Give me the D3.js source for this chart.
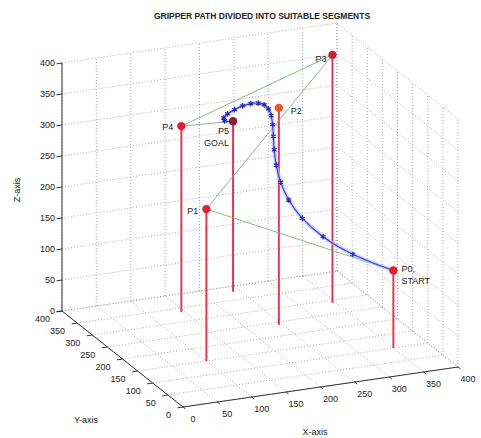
<!DOCTYPE html>
<html>
<head>
<meta charset="utf-8">
<script src="https://cdn.jsdelivr.net/npm/d3@7"></script>
<style>
  body { margin: 0; background: #fff; }
  text { font-family: "Liberation Sans", Arial, sans-serif; fill: #222; }
</style>
</head>
<body>
<div id="chart"></div>
<script>
// axis ticks (same for X, Y, Z)
const ticks = [0, 50, 100, 150, 200, 250, 300, 350, 400];

// control points of the gripper path
const ptNames = ["P0,\nSTART", "P1", "P2", "P3", "P4", "P5\nGOAL"];
const ptX = [350, 100, 245, 345, 145, 240];
const ptY = [100, 150, 240, 290, 335, 380];
const ptZ = [125, 245, 350, 400, 300, 275];

// green segment lines between control points (index pairs)
const segA = [0, 1, 3, 4];
const segB = [1, 3, 4, 5];

// sampled gripper path (blue stars)
const pathX = [350, 296.8, 260.2, 237.0, 224.5, 219.9, 220.8, 225.1, 230.9, 236.6, 241.1,
               243.4, 243.2, 240.3, 235.2, 228.6, 222.0, 217.2, 216.5, 222.9, 240];
const pathY = [100, 113.4, 128.3, 144.1, 160.5, 177.1, 193.7, 210.1, 226.0, 241.5, 256.4,
               270.7, 284.4, 297.6, 310.3, 322.5, 334.4, 346.0, 357.4, 368.8, 380];
const pathZ = [125, 154.6, 183.1, 210.2, 235.5, 258.7, 279.4, 297.3, 312.2, 323.8, 332.0,
               336.8, 338.1, 336.2, 331.3, 323.9, 314.4, 303.8, 292.9, 282.9, 275];

const width = 481, height = 438;

const svg = d3.select("#chart").append("svg")
  .attr("width", width)
  .attr("height", height);

// projection of the 3D box onto the page
const origin = [183, 407];
const ex = [275, -40], ey = [-121, -96], ez = [0, -248];
const nx = d3.scaleLinear().domain([0, 400]).range([0, 1]);
const ny = d3.scaleLinear().domain([0, 400]).range([0, 1]);
const nz = d3.scaleLinear().domain([0, 400]).range([0, 1]);

function proj(x, y, z) {
  const a = nx(x), b = ny(y), c = nz(z);
  return [origin[0] + a * ex[0] + b * ey[0] + c * ez[0],
          origin[1] + a * ex[1] + b * ey[1] + c * ez[1]];
}

function seg(g, p, q, cls) {
  const a = proj(...p), b = proj(...q);
  return g.append("line")
    .attr("x1", a[0]).attr("y1", a[1])
    .attr("x2", b[0]).attr("y2", b[1]);
}

// grid on back wall (y=400), right wall (x=400), floor (z=0)
const grid = svg.append("g")
  .attr("stroke", "#8a8a8a")
  .attr("stroke-width", 0.7)
  .attr("stroke-dasharray", "1,2");

ticks.forEach(t => {
  seg(grid, [t, 400, 0], [t, 400, 400]);
  seg(grid, [0, 400, t], [400, 400, t]);
  seg(grid, [400, t, 0], [400, t, 400]);
  seg(grid, [400, 0, t], [400, 400, t]);
  seg(grid, [t, 0, 0], [t, 400, 0]);
  seg(grid, [0, t, 0], [400, t, 0]);
});

// axis lines
const axes = svg.append("g").attr("stroke", "#333").attr("stroke-width", 1);
seg(axes, [0, 400, 0], [0, 400, 400]);
seg(axes, [0, 0, 0], [0, 400, 0]);
seg(axes, [0, 0, 0], [400, 0, 0]);

// ticks and tick labels
ticks.forEach(t => {
  seg(axes, [0, 400, t], [-8, 400, t]);
  seg(axes, [0, t, 0], [-8, t, 0]);
  seg(axes, [t, 0, 0], [t, -8, 0]);

  const pz = proj(0, 400, t);
  svg.append("text").attr("x", pz[0] - 7).attr("y", pz[1] + 3)
    .attr("text-anchor", "end").attr("font-size", 9).text(t);

  const py = proj(0, t, 0);
  svg.append("text").attr("x", py[0] - 12).attr("y", py[1] + 11)
    .attr("text-anchor", "end").attr("font-size", 9).text(t);

  const px = proj(t, 0, 0);
  svg.append("text").attr("x", px[0] + 10).attr("y", px[1] + 15)
    .attr("text-anchor", "middle").attr("font-size", 9).text(t);
});

// axis titles and title
svg.append("text").attr("x", 262).attr("y", 19)
  .attr("text-anchor", "middle").attr("font-size", 8.5).attr("font-weight", "bold")
  .text("GRIPPER PATH DIVIDED INTO SUITABLE SEGMENTS");
svg.append("text").attr("transform", "translate(20,190) rotate(-90)")
  .attr("text-anchor", "middle").attr("font-size", 9).text("Z-axis");
svg.append("text").attr("x", 86).attr("y", 423)
  .attr("text-anchor", "middle").attr("font-size", 9).text("Y-axis");
svg.append("text").attr("x", 315).attr("y", 435)
  .attr("text-anchor", "middle").attr("font-size", 9).text("X-axis");

// stems
const pts = ptX.map((x, i) => ({ name: ptNames[i], x: x, y: ptY[i], z: ptZ[i] }));

svg.append("g").selectAll("line").data(pts).join("line")
  .attr("x1", d => proj(d.x, d.y, d.z)[0]).attr("y1", d => proj(d.x, d.y, d.z)[1])
  .attr("x2", d => proj(d.x, d.y, 0)[0]).attr("y2", d => proj(d.x, d.y, 0)[1])
  .attr("stroke", "#dc3a55").attr("stroke-width", 2);

// green segments
svg.append("g").selectAll("line").data(segA).join("line")
  .attr("x1", (a) => proj(ptX[a], ptY[a], ptZ[a])[0])
  .attr("y1", (a) => proj(ptX[a], ptY[a], ptZ[a])[1])
  .attr("x2", (a, i) => proj(ptX[segB[i]], ptY[segB[i]], ptZ[segB[i]])[0])
  .attr("y2", (a, i) => proj(ptX[segB[i]], ptY[segB[i]], ptZ[segB[i]])[1])
  .attr("stroke", "#7fb07f").attr("stroke-width", 0.9);

// blue path
const path = pathX.map((x, i) => proj(x, pathY[i], pathZ[i]));
const line = d3.line().curve(d3.curveCatmullRom);
svg.append("path").attr("d", line(path))
  .attr("fill", "none").attr("stroke", "#b8c0f4").attr("stroke-width", 4).attr("opacity", 0.7);
svg.append("path").attr("d", line(path))
  .attr("fill", "none").attr("stroke", "#3a48d8").attr("stroke-width", 1.2);
svg.append("g").selectAll("path").data(path).join("path")
  .attr("transform", d => `translate(${d[0]},${d[1]})`)
  .attr("d", d3.symbol(d3.symbolAsterisk, 22))
  .attr("fill", "none").attr("stroke", "#2a2ab0").attr("stroke-width", 1.2);

// markers
const markerColor = ["#e0202e", "#e0202e", "#e8582a", "#c8203a", "#e0202e", "#8a1e36"];
svg.append("g").selectAll("circle").data(pts).join("circle")
  .attr("cx", d => proj(d.x, d.y, d.z)[0]).attr("cy", d => proj(d.x, d.y, d.z)[1])
  .attr("r", 4.2)
  .attr("fill", (d, i) => markerColor[i]);

// point labels
const labelDx = [8, -8, 12, -6, -8, -4];
const labelDy = [1, 5, 6, 7, 4, 13];
const labelAnchor = ["start", "end", "start", "end", "end", "end"];
pts.forEach((d, i) => {
  const p = proj(d.x, d.y, d.z);
  const t = svg.append("text")
    .attr("x", p[0] + labelDx[i]).attr("y", p[1] + labelDy[i])
    .attr("text-anchor", labelAnchor[i]).attr("font-size", 9);
  d.name.split("\n").forEach((s, k) => {
    t.append("tspan").attr("x", p[0] + labelDx[i]).attr("dy", k ? 12 : 0).text(s);
  });
});
</script>
</body>
</html>
